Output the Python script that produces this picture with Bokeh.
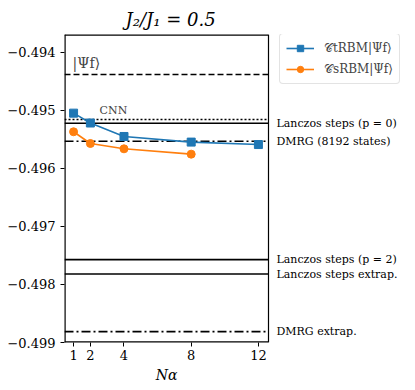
from bokeh.plotting import figure
from bokeh.models import Label, Legend, LegendItem, FixedTicker, Range1d, LinearAxis
from bokeh.embed import file_html
from bokeh.resources import INLINE

# data
n_alpha_t = [1, 2, 4, 8, 12]
e_trbm = [-0.495046, -0.495216, -0.495448, -0.495545, -0.495587]
n_alpha_s = [1, 2, 4, 8]
e_srbm = [-0.495367, -0.495569, -0.495661, -0.495753]

ref_names = ["psi_f", "CNN", "Lanczos steps (p = 0)", "DMRG (8192 states)",
             "Lanczos steps (p = 2)", "Lanczos steps extrap.", "DMRG extrap."]
ref_values = [-0.49438, -0.495156, -0.49522, -0.495531, -0.497571, -0.49782, -0.498813]
ref_dash = ["dashed", "dotted", "solid", "dashdot", "solid", "solid", "dashdot"]
right_labels = ["Lanczos steps (p = 0)", "DMRG (8192 states)", "Lanczos steps (p = 2)",
                "Lanczos steps extrap.", "DMRG extrap."]
right_label_values = [-0.49522, -0.495531, -0.497571, -0.49782, -0.498813]

x_ticks = [1, 2, 4, 8, 12]
y_ticks = [-0.494, -0.495, -0.496, -0.497, -0.498, -0.499]
y_tick_labels = ["−0.494", "−0.495", "−0.496", "−0.497", "−0.498", "−0.499"]

FONT = "DejaVu Serif"
BLUE = "#1f77b4"
ORANGE = "#ff7f0e"

# axes box limits (data units)
X_MIN, X_MAX = 0.46, 12.6
Y_MIN, Y_MAX = -0.499, -0.49369
PX_PER_X = 204 / (X_MAX - X_MIN)
FRAME_W = 343

p = figure(width=407, height=376, output_backend="svg", toolbar_location=None,
           x_range=Range1d(X_MIN, X_MIN + FRAME_W / PX_PER_X), y_range=Range1d(Y_MIN, Y_MAX),
           frame_width=FRAME_W, frame_height=308,
           min_border_left=64, min_border_top=34, min_border_right=0, min_border_bottom=20)

p.title.text = "J₂/J₁ = 0.5"
p.title.align = "left"
p.title.offset = 61
p.title.text_font = FONT
p.title.text_font_size = "18px"
p.title.text_font_style = "italic"
p.title.text_color = "black"

p.xgrid.visible = False
p.ygrid.visible = False
p.outline_line_color = None
p.background_fill_color = "white"
p.border_fill_color = "white"

for ax in (p.xaxis[0], p.yaxis[0]):
    ax.axis_line_color = None
    ax.major_tick_line_color = "black"
    ax.major_tick_out = 4
    ax.major_tick_in = 0
    ax.minor_tick_line_color = None
    ax.major_label_text_font = FONT
    ax.major_label_text_font_size = "13px"
    ax.major_label_text_color = "black"
p.xaxis[0].major_label_standoff = 3

p.xaxis.ticker = FixedTicker(ticks=x_ticks)
p.yaxis.ticker = FixedTicker(ticks=y_ticks)
p.yaxis.major_label_overrides = {v: s for v, s in zip(y_ticks, y_tick_labels)}

# x-axis title placed under the axes box centre
xc = (X_MIN + X_MAX) / 2
xl = LinearAxis(ticker=FixedTicker(ticks=[xc]), major_label_overrides={xc: "Nα"},
                axis_line_color=None, major_tick_line_color=None, minor_tick_line_color=None,
                major_label_text_font=FONT, major_label_text_font_size="14px",
                major_label_text_font_style="italic", major_label_text_color="black",
                major_label_standoff=-2)
p.add_layout(xl, "below")

# axes box: left, top, bottom edges sit on the frame edge, right edge inside
p.multi_line(xs=[[X_MIN, X_MIN], [X_MIN, X_MAX], [X_MIN, X_MAX]],
             ys=[[Y_MIN, Y_MAX], [Y_MAX, Y_MAX], [Y_MIN, Y_MIN]],
             line_color="black", line_width=2.4)
p.segment(x0=[X_MAX], x1=[X_MAX], y0=[Y_MIN], y1=[Y_MAX], line_color="black", line_width=1.2)

dash_map = {"dashed": "6 3", "dotted": "2 2", "solid": "solid", "dashdot": "9 3 2 3"}
for v, d in zip(ref_values, ref_dash):
    p.segment(x0=[X_MIN], x1=[X_MAX], y0=[v], y1=[v], line_color="black",
              line_width=1.6, line_dash=dash_map[d])

l1 = p.line(n_alpha_t, e_trbm, line_color=BLUE, line_width=1.6)
s1 = p.scatter(n_alpha_t, e_trbm, marker="square", size=8, fill_color=BLUE, line_color=BLUE)
l2 = p.line(n_alpha_s, e_srbm, line_color=ORANGE, line_width=1.6)
s2 = p.scatter(n_alpha_s, e_srbm, marker="circle", size=8, fill_color=ORANGE, line_color=ORANGE)

p.add_layout(Label(x=1, y=-0.49418, text="|Ψf⟩", text_font=FONT, text_font_size="14px",
                   text_baseline="middle", x_offset=-1))
p.add_layout(Label(x=2.55, y=-0.495, text="CNN", text_font=FONT, text_font_size="11px",
                   text_baseline="middle"))

for t, v in zip(right_labels, right_label_values):
    p.add_layout(Label(x=X_MAX, y=v, text=t, text_font=FONT, text_font_size="11px",
                       text_baseline="middle", x_offset=8, text_color="black"))

legend = Legend(items=[LegendItem(label="𝒞tRBM|Ψf⟩", renderers=[l1, s1]),
                       LegendItem(label="𝒞sRBM|Ψf⟩", renderers=[l2, s2])],
                location=(215, 258), margin=0, padding=6, spacing=5,
                glyph_width=28, glyph_height=16, label_standoff=10,
                label_text_font=FONT, label_text_font_size="12px",
                border_line_color="#c8c8c8", border_line_width=1.2,
                border_radius=4, background_fill_alpha=1.0)
p.add_layout(legend, "center")

open("out.html", "w").write(file_html(p, INLINE))
